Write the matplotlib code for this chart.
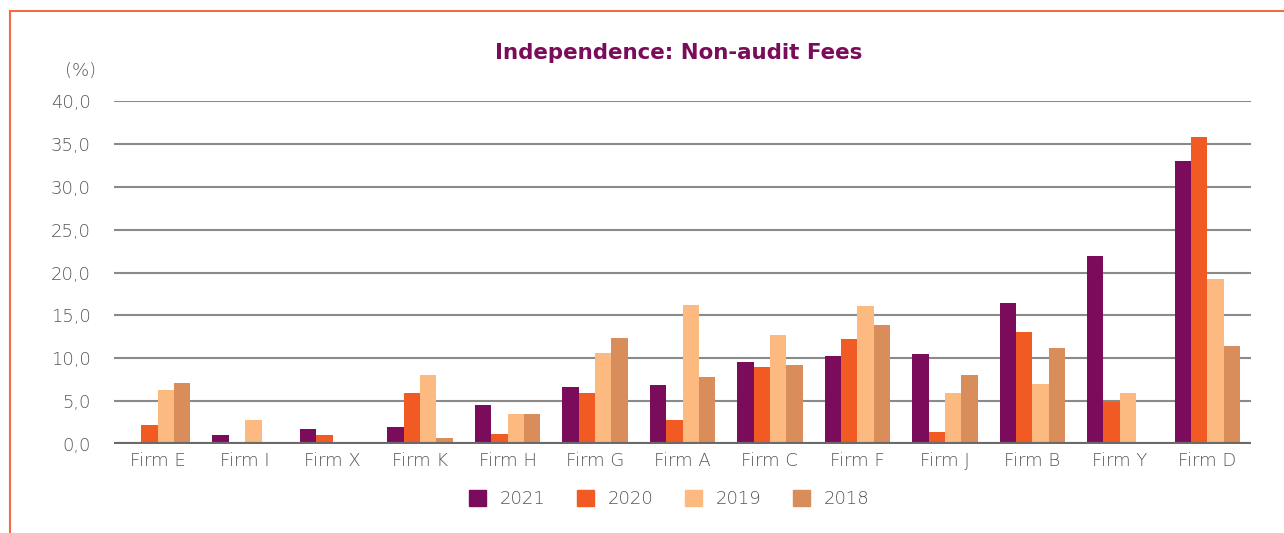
import matplotlib
matplotlib.use("Agg")
import matplotlib.pyplot as plt
from matplotlib.lines import Line2D
import matplotlib.patches as mpatches
import numpy as np

plt.rcParams['font.family'] = ['DejaVu Sans']

firms = ["Firm E", "Firm I", "Firm X", "Firm K", "Firm H", "Firm G", "Firm A",
         "Firm C", "Firm F", "Firm J", "Firm B", "Firm Y", "Firm D"]
years = ["2021", "2020", "2019", "2018"]
v2021 = [0.0, 1.0, 1.8, 2.0, 4.6, 6.6, 6.85, 9.55, 10.25, 10.45, 16.5, 21.9, 33.0]
v2020 = [2.25, 0.0, 1.1, 5.9, 1.2, 5.9, 2.85, 8.95, 12.25, 1.45, 13.1, 4.95, 35.8]
v2019 = [6.3, 2.85, 0.0, 8.0, 3.5, 10.6, 16.2, 12.7, 16.1, 5.9, 7.05, 5.9, 19.2]
v2018 = [7.15, 0.0, 0.0, 0.75, 3.5, 12.4, 7.8, 9.2, 13.9, 8.0, 11.15, 0.0, 11.4]
series = [v2021, v2020, v2019, v2018]
colors = ["#7B0C5C", "#F15A22", "#FCBA80", "#D88D5B"]
yticks = [0, 5, 10, 15, 20, 25, 30, 35, 40]

W, H = 1284, 533
fig = plt.figure(figsize=(W / 100, H / 100), dpi=100)
ax = fig.add_axes([114 / W, (H - 444) / H, (1251 - 114) / W, (444 - 101) / H])

x = np.arange(len(firms))
bw = 0.187
for i, (vals, c, lab) in enumerate(zip(series, colors, years)):
    ax.bar(x + (i - 1.5) * bw, vals, width=bw, color=c, label=lab, zorder=3)

tc = "#555555"
ax.set_xlim(-0.5, len(firms) - 0.5)
ax.set_ylim(0, 40)
ax.set_yticks(yticks)
ax.set_yticklabels([f"{t:.1f}".replace(".", ",") for t in yticks], fontweight='light')
ax.set_xticks(x)
ax.set_xticklabels(firms, fontweight='light')
for s in ax.spines.values():
    s.set_visible(False)
ax.tick_params(axis='both', length=0, labelsize=13, labelcolor=tc)
ax.tick_params(axis='y', pad=17)
ax.tick_params(axis='x', pad=6)
for t in yticks[1:]:
    ax.axhline(t, color="#8a8a8a", lw=1.5, zorder=1)
ax.axhline(0, color="#6a6a6a", lw=3, zorder=4)

fig.text(96 / W, (H - 71) / H, "(%)", ha='right', va='center', fontsize=13, color=tc,
         fontweight='light')
fig.text(679 / W, (H - 53) / H, "Independence: Non-audit Fees", ha='center', va='center',
         fontsize=15.4, fontweight='bold', color="#7B0C5C")

handles = [mpatches.Patch(color=c, label=l) for c, l in zip(colors, years)]
leg = fig.legend(handles=handles, loc='center', bbox_to_anchor=(669 / W, (H - 499) / H), ncol=4,
                 frameon=False, prop={'size': 13, 'weight': 'light'}, labelcolor=tc,
                 handlelength=0.95, handleheight=0.95, columnspacing=1.75, handletextpad=0.75)

fig.add_artist(Line2D([10 / W, 10 / W], [0, (H - 11) / H], color="#F26B43", lw=1.5, transform=fig.transFigure))
fig.add_artist(Line2D([10 / W, 1], [(H - 11) / H, (H - 11) / H], color="#F26B43", lw=1.5, transform=fig.transFigure))

fig.savefig("out.png", dpi=100)
